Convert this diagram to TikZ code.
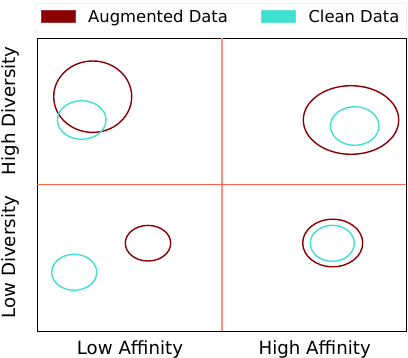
\documentclass[tikz,border=0pt]{standalone}
\usepackage{fontspec}
\setmainfont{DejaVu Sans}
\usepackage{xcolor}
\usepackage{tikz}
\usetikzlibrary{shapes.geometric, positioning, calc}

\definecolor{augred}{RGB}{139,0,0}
\definecolor{cleancyan}{RGB}{64,224,208}
\definecolor{hsplit}{RGB}{255,99,71}
\definecolor{vsplit}{RGB}{255,145,128}

\begin{document}
\begin{tikzpicture}[
    x=1pt, y=-1pt,
    blob/.style={draw, ellipse, line width=1.4pt, inner sep=0pt},
    aug/.style={blob, draw=augred},
    clean/.style={blob, draw=cleancyan},
    patch/.style={minimum width=34pt, minimum height=12.5pt, inner sep=0pt},
    lbl/.style={font=\fontsize{16.4}{18}\selectfont, inner sep=0pt},
    axlbl/.style={font=\fontsize{18.2}{20}\selectfont, inner sep=0pt},
]
    \useasboundingbox (0,0) rectangle (408,358);

    % Legend
    \node[draw=black!12, rounded corners=3pt, fill=white, minimum width=371.7pt,
          minimum height=29pt] (legend) at (220.8,17.8) {};
    \node[patch, fill=augred, draw=augred!80] (augpatch) at (57.8,16.3) {};
    \node[lbl, anchor=base west] (augtext) at (88,22.3) {Augmented Data};
    \node[patch, fill=cleancyan, draw=cleancyan!80] (cleanpatch) at (278.4,16.3) {};
    \node[lbl, anchor=base west] (cleantext) at (308.3,22.3) {Clean Data};

    % Axes
    \node[draw, line width=0.9pt, minimum width=368.7pt, minimum height=293pt,
          inner sep=0pt] (axes) at (221.65,184.5) {};
    \coordinate (mid) at (221.65,184.5);
    \draw[vsplit, line width=2pt, shorten <=0.5pt, shorten >=0.5pt]
        (axes.north -| mid) -- (axes.south -| mid);
    \draw[hsplit, line width=1.5pt, shorten <=0.5pt, shorten >=0.5pt]
        (axes.west |- mid) -- (axes.east |- mid);

    % High diversity, low affinity
    \node[aug, minimum width=78pt, minimum height=71.4pt] (augHL) at (92.7,96.7) {};
    \node[clean, minimum width=48.6pt, minimum height=38.6pt] (cleanHL) at (81.7,120) {};

    % High diversity, high affinity
    \node[aug, minimum width=95.4pt, minimum height=68.6pt] (augHH) at (351,120) {};
    \node[clean, minimum width=48.6pt, minimum height=38.6pt] (cleanHH) at (354.7,126) {};

    % Low diversity, low affinity
    \node[aug, minimum width=45.4pt, minimum height=35.6pt] (augLL) at (148,243.2) {};
    \node[clean, minimum width=45pt, minimum height=36pt] (cleanLL) at (74.2,272.3) {};

    % Low diversity, high affinity
    \node[aug, minimum width=60pt, minimum height=47.6pt] (augLH) at (332.7,243) {};
    \node[clean, minimum width=44pt, minimum height=36pt] (cleanLH) at (332.3,243.3) {};

    % Axis labels
    \node[axlbl, anchor=base] (lowaff) at (130,355) {Low Affinity};
    \node[axlbl, anchor=base] (highaff) at (314.7,355) {High Affinity};
    \node[axlbl, anchor=base, rotate=90] (highdiv) at (15.3,110.8) {High Diversity};
    \node[axlbl, anchor=base, rotate=90] (lowdiv) at (15.3,257.2) {Low Diversity};
\end{tikzpicture}
\end{document}
